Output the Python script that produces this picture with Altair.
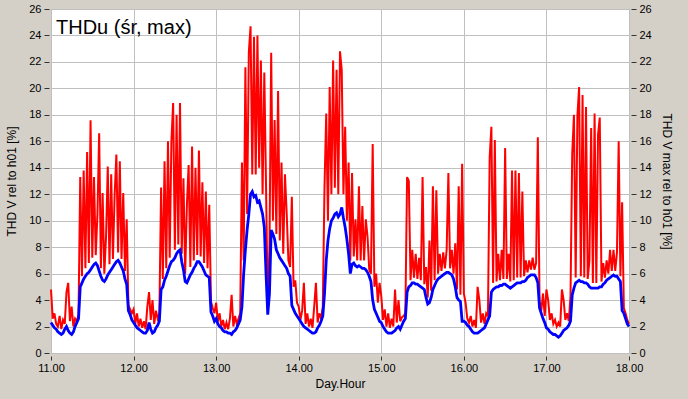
import altair as alt
import pandas as pd

# ---- data: half-hour samples, 48 per day (h = 0.0, 0.5, ... 23.5) ----
days = [11, 12, 13, 14, 15, 16, 17]
samples_per_day = 48

avg_11 = [2.3, 2.1, 1.9, 1.8, 1.6, 1.5, 1.4, 1.5,
          1.8, 2.0, 1.7, 1.5, 1.4, 1.6, 2.0, 2.3,
          2.6, 5.0, 5.3, 5.6, 5.8, 6.0, 6.1, 6.3,
          6.5, 6.7, 6.8, 6.6, 6.2, 5.8, 5.5, 5.4,
          5.6, 5.9, 6.1, 6.3, 6.5, 6.7, 6.9, 7.0,
          6.8, 6.5, 6.2, 5.6, 5.2, 3.2, 2.9, 2.5]
max_11 = [4.8, 2.6, 3.0, 2.2, 2.0, 2.8, 1.8, 2.5,
          2.2, 4.6, 5.3, 2.4, 3.5, 2.0, 2.6, 2.4,
          2.9, 13.3, 5.8, 13.8, 6.4, 15.2, 6.8, 17.6,
          7.2, 13.3, 7.4, 10.5, 16.6, 6.4, 12.1, 6.0,
          8.8, 14.1, 6.7, 13.5, 7.1, 12.0, 15.0, 7.6,
          14.5, 7.1, 12.1, 6.2, 10.1, 3.6, 3.3, 3.0]

avg_12 = [2.3, 2.1, 1.9, 1.8, 1.7, 1.6, 1.5, 1.5,
          1.7, 2.3, 1.8, 1.5, 1.6, 1.9, 2.1, 2.4,
          4.8, 5.0, 5.5, 5.8, 6.2, 6.6, 6.9, 7.0,
          7.2, 7.5, 7.7, 7.8, 6.9, 6.3, 5.4, 5.3,
          5.6, 5.9, 6.1, 6.4, 6.6, 6.9, 6.9, 6.7,
          6.5, 6.2, 5.9, 5.8, 5.7, 3.1, 2.8, 2.4]
max_12 = [3.3, 2.2, 3.0, 2.0, 2.6, 1.9, 2.4, 1.8,
          3.5, 4.6, 2.5, 4.0, 2.2, 3.2, 2.6, 3.0,
          12.5, 5.6, 14.5, 6.4, 16.0, 7.2, 16.0, 18.9,
          7.8, 18.0, 8.2, 18.9, 7.5, 13.2, 6.0, 11.2,
          14.2, 6.5, 15.6, 7.0, 14.0, 7.4, 15.3, 7.3,
          12.9, 6.8, 12.2, 6.4, 11.2, 3.9, 3.4, 3.0]

avg_13 = [2.6, 2.2, 2.0, 1.9, 1.7, 1.6, 1.6, 1.5,
          1.5, 1.4, 1.6, 1.7, 1.9, 2.2, 2.5, 3.5,
          6.0, 7.8, 9.3, 10.5, 12.0, 12.2, 11.8, 11.9,
          11.4, 11.5, 11.0, 10.5, 9.5, 6.0, 2.9, 4.5,
          9.3, 9.0, 8.6, 7.8, 7.5, 7.2, 7.0, 6.8,
          6.6, 6.4, 6.0, 5.8, 3.6, 3.3, 3.0, 2.8]
max_13 = [3.8, 2.4, 3.0, 2.0, 2.5, 1.8, 2.3, 1.8,
          2.6, 4.4, 2.0, 2.8, 2.2, 2.6, 3.0, 14.4,
          7.0, 21.6, 10.5, 22.7, 24.7, 13.5, 23.9, 13.5,
          24.0, 14.0, 22.1, 12.0, 21.2, 12.6, 3.5, 8.0,
          22.7, 10.0, 17.6, 9.0, 19.8, 8.5, 14.4, 7.5,
          13.5, 10.6, 7.0, 6.5, 11.8, 5.0, 5.5, 3.8]

avg_14 = [2.6, 2.4, 2.2, 2.0, 1.9, 1.8, 1.7, 1.6,
          1.5, 1.5, 1.6, 1.9, 2.1, 2.4, 2.8, 4.5,
          7.0, 8.5, 9.4, 10.0, 10.2, 10.5, 10.6, 10.3,
          10.5, 11.0, 10.2, 9.5, 8.6, 7.5, 6.0, 6.7,
          6.8, 6.6, 6.5, 6.6, 6.5, 6.4, 6.4, 6.3,
          6.1, 5.8, 5.4, 4.0, 3.3, 3.0, 2.7, 2.4]
max_14 = [3.5, 2.5, 3.2, 5.3, 2.2, 3.0, 2.0, 2.6,
          1.9, 3.5, 5.3, 2.3, 3.0, 2.6, 3.5, 12.6,
          18.1, 10.0, 20.1, 12.0, 22.1, 12.5, 21.4, 12.0,
          22.8, 21.4, 12.0, 17.1, 10.0, 14.4, 7.0, 13.6,
          7.3, 10.1, 7.0, 12.6, 7.0, 11.1, 7.0, 10.1,
          8.8, 6.3, 6.0, 15.8, 5.0, 6.0, 3.8, 5.3]

avg_15 = [2.3, 2.0, 1.8, 1.6, 1.5, 1.5, 1.5, 1.6,
          1.7, 1.9, 2.0, 1.8, 2.1, 2.4, 2.6, 4.6,
          5.0, 5.1, 5.3, 5.3, 5.2, 5.2, 5.1, 5.0,
          4.9, 4.8, 4.2, 3.7, 3.8, 4.2, 4.8, 5.1,
          5.4, 5.6, 5.7, 5.8, 5.9, 6.0, 6.1, 6.1,
          6.0, 5.9, 5.6, 5.0, 4.2, 4.0, 3.9, 2.4]
max_15 = [4.3, 2.5, 3.3, 2.0, 3.0, 1.9, 2.6, 2.0,
          4.8, 2.3, 4.0, 2.4, 2.7, 2.8, 3.0, 13.3,
          13.0, 5.5, 7.8, 5.7, 7.5, 5.6, 7.2, 5.5,
          13.3, 5.2, 6.5, 4.2, 8.5, 4.7, 12.6, 5.5,
          12.3, 6.0, 7.5, 6.2, 7.6, 6.4, 7.8, 13.6,
          6.4, 7.8, 6.0, 8.3, 4.8, 12.6, 4.4, 14.3]

avg_16 = [2.4, 2.3, 2.1, 2.0, 1.8, 1.6, 1.5, 1.5,
          1.5, 1.6, 1.7, 1.8, 1.9, 2.2, 2.5, 2.8,
          4.6, 4.8, 4.9, 5.0, 5.0, 5.1, 5.1, 5.2,
          5.2, 5.1, 5.0, 4.9, 5.0, 5.1, 5.2, 5.3,
          5.3, 5.3, 5.4, 5.4, 5.5, 5.7, 5.8, 5.9,
          5.9, 5.9, 5.7, 5.3, 3.4, 3.0, 2.6, 2.3]
max_16 = [4.5, 3.8, 2.6, 2.3, 2.8, 2.0, 2.5, 1.9,
          5.0, 4.0, 2.3, 3.0, 2.2, 3.0, 2.8, 14.8,
          17.1, 5.3, 16.1, 5.4, 7.5, 5.5, 7.8, 5.6,
          15.5, 5.6, 7.5, 5.4, 13.8, 5.5, 13.8, 5.7,
          13.6, 5.7, 12.2, 5.8, 7.0, 6.1, 7.0, 6.3,
          7.2, 6.3, 6.8, 16.3, 3.9, 3.2, 4.5, 2.8]

avg_17 = [1.9, 1.8, 1.6, 1.5, 1.4, 1.4, 1.3, 1.2,
          1.3, 1.5, 1.7, 1.8, 1.9, 2.1, 2.4, 4.4,
          4.9, 5.3, 5.4, 5.5, 5.4, 5.4, 5.3, 5.3,
          5.2, 5.0, 4.9, 4.9, 4.9, 4.9, 4.9, 5.0,
          5.0, 5.2, 5.3, 5.5, 5.6, 5.7, 5.8, 5.9,
          5.8, 5.8, 5.6, 5.4, 3.2, 3.0, 2.6, 2.2]
max_17 = [4.8, 4.0, 2.5, 3.0, 2.2, 2.5, 2.0, 2.3,
          2.0, 4.8, 4.0, 2.5, 3.0, 2.4, 4.3, 15.1,
          18.0, 5.7, 17.9, 20.1, 5.8, 19.5, 5.7, 18.6,
          5.6, 7.0, 17.0, 5.3, 18.1, 5.3, 16.5, 17.8,
          5.4, 6.8, 5.7, 7.0, 6.0, 7.8, 6.2, 7.8,
          6.2, 7.6, 16.0, 5.8, 11.4, 3.4, 3.0, 2.5]

avg_end = 2.0   # value at 18.00
max_end = 2.2

title_text = "THDu (śr, max)"
x_ticks = [11, 12, 13, 14, 15, 16, 17, 18]
y_ticks = list(range(0, 27, 2))

avg_days = [avg_11, avg_12, avg_13, avg_14, avg_15, avg_16, avg_17]
max_days = [max_11, max_12, max_13, max_14, max_15, max_16, max_17]

rows = []
for d, a_list, m_list in zip(days, avg_days, max_days):
    for i, (a, m) in enumerate(zip(a_list, m_list)):
        rows.append({"t": d + i / samples_per_day, "avg": a, "max": m})
rows.append({"t": 18.0, "avg": avg_end, "max": max_end})
df = pd.DataFrame(rows)

FONT = "Liberation Sans"

x_enc = alt.X(
    "t:Q",
    scale=alt.Scale(domain=[11, 18], nice=False, zero=False),
    axis=alt.Axis(
        values=x_ticks, format=".2f", title="Day.Hour",
        grid=True, gridColor="#c0c0c0", domain=False, labelFlush=False,
        tickSize=4, tickColor="#333333", offset=3, labelPadding=2,
        labelFont=FONT, labelFontSize=11, labelColor="#000000",
        titleFont=FONT, titleFontSize=12, titleFontWeight="normal",
        titleColor="#000000", titlePadding=5,
    ),
)

y_scale = alt.Scale(domain=[0, 26], nice=False, zero=True)

red = alt.Chart(df).mark_line(color="#ff0000", strokeWidth=2.0).encode(
    x=x_enc,
    y=alt.Y(
        "max:Q", scale=y_scale,
        axis=alt.Axis(
            orient="right", values=y_ticks, title="THD V max rel to h01 [%]",
            grid=False, domain=False, tickSize=5, tickColor="#333333",
            offset=2, labelPadding=3, labelFlush=False,
            labelFont=FONT, labelFontSize=11, labelColor="#000000",
            titleFont=FONT, titleFontSize=12, titleFontWeight="normal",
            titleColor="#000000", titlePadding=8,
        ),
    ),
)

blue = alt.Chart(df).mark_line(color="#0000ff", strokeWidth=2.8).encode(
    x=x_enc,
    y=alt.Y(
        "avg:Q", scale=y_scale,
        axis=alt.Axis(
            orient="left", values=y_ticks, title="THD V rel to h01 [%]",
            grid=True, gridColor="#c0c0c0", domain=False, tickSize=5,
            tickColor="#333333", offset=2, labelPadding=3, labelFlush=False,
            labelFont=FONT, labelFontSize=11, labelColor="#000000",
            titleFont=FONT, titleFontSize=12, titleFontWeight="normal",
            titleColor="#000000", titlePadding=10,
        ),
    ),
)

title = alt.Chart(pd.DataFrame({"label": [title_text]})).mark_text(
    font=FONT, fontSize=20, color="#000000", align="left", baseline="alphabetic"
).encode(text="label:N", x=alt.value(5), y=alt.value(25))

chart = (
    alt.layer(red, blue, title)
    .resolve_scale(y="independent")
    .properties(
        width=578, height=344,
        autosize=alt.AutoSizeParams(type="none"),
        padding={"left": 51, "top": 9, "right": 59, "bottom": 46},
        background="#d4d0c8",
    )
    .configure_view(fill="#ffffff", stroke="#a0a0a0")
)

chart.save("out.html", embed_options={"renderer": "svg", "actions": False})
